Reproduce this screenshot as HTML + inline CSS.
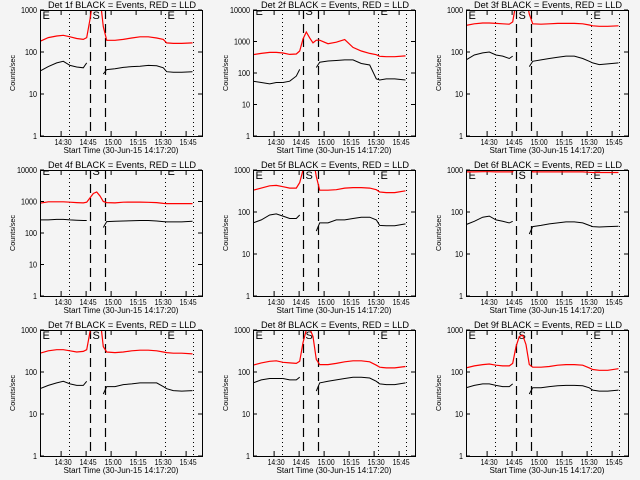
<!DOCTYPE html>
<html><head><meta charset="utf-8"><style>
html,body{margin:0;padding:0;background:#f4f4f4;}
svg{display:block;font-family:"Liberation Sans",sans-serif;}
</style></head><body>
<svg id="chart" width="640" height="480" viewBox="0 0 640 480" xmlns="http://www.w3.org/2000/svg">
<rect x="0" y="0" width="640" height="480" fill="#f4f4f4"/>
</svg>
<script>
// minutes after 14:17:20
const blackTimes = [0,5,10,14,18,22,26,28, 38,40,45,50,55,60,65,70,74,76,80,85,91.5];
const redTimes = [0,5,10,14,18,22,26,28,30,32,34,36,38,40,45,50,55,60,65,70,74,76,80,85,91.5];
const gapAfterIndex = 7;
const detNames = ["1f","2f","3f","4f","5f","6f","7f","8f","9f"];
const decades = [3,4,3,4,3,3,3,3,3];
const black1 = [35,45,55,60,48,44,42,55, 30,38,40,43,45,46,48,47,42,34,33,33,34];
const red1 = [180,220,240,250,230,210,200,220,600,2000,2000,2000,400,190,190,200,215,230,230,215,200,165,160,160,165];
const black2 = [55,50,45,50,50,55,80,130, 150,220,240,250,260,260,200,180,65,60,65,65,60];
const red2 = [380,420,450,450,430,390,400,500,1200,2000,1300,900,1100,1100,850,950,1150,650,500,420,380,340,330,330,350];
const black3 = [65,85,95,100,85,80,70,80, 45,60,65,70,75,80,80,70,60,55,50,52,55];
const red3 = [430,470,490,490,480,470,460,520,1500,2000,2000,2000,800,470,460,470,480,480,480,470,440,420,410,410,420];
const black4 = [260,260,270,270,260,255,250,250, 150,230,235,240,245,250,250,240,230,225,225,225,235];
const red4 = [880,980,980,980,950,920,900,950,1300,1800,2000,1500,1000,920,900,950,960,960,940,920,870,860,860,860,860];
const black5 = [55,65,85,90,80,70,70,85, 35,55,55,65,65,70,75,75,65,48,47,47,52];
const red5 = [330,370,420,430,400,370,370,500,1000,2000,2000,2000,700,330,330,340,370,380,380,370,340,300,290,290,320];
const black6 = [50,60,75,80,65,60,55,60, 30,45,48,52,55,58,58,55,48,45,44,45,46];
const red6 = [900,900,910,910,900,900,900,900,2000,2000,2000,2000,2000,900,900,900,900,900,900,900,880,870,870,870,870];
const black7 = [40,48,55,60,52,48,48,60, 30,45,45,50,52,55,55,55,45,40,36,35,36];
const red7 = [280,320,340,340,320,300,310,340,900,2000,2000,2000,400,300,290,300,320,330,330,320,300,290,280,280,270];
const black8 = [55,65,70,70,70,65,65,75, 35,55,60,65,70,75,75,72,60,52,50,50,55];
const red8 = [145,165,180,185,170,165,160,180,500,1000,1100,700,200,150,150,160,175,185,185,175,145,130,125,125,135];
const black9 = [42,48,52,52,48,45,45,52, 30,42,42,45,47,48,48,47,42,37,35,35,37];
const red9 = [125,140,150,155,145,140,140,160,400,700,750,450,150,130,130,135,145,150,150,145,125,115,110,110,120];
const blackSeries = [black1,black2,black3,black4,black5,black6,black7,black8,black9];
const redSeries = [red1,red2,red3,red4,red5,red6,red7,red8,red9];
const xTickLabels = ["14:30","14:45","15:00","15:15","15:30","15:45"];
const xTickTimes = [12.667,27.667,42.667,57.667,72.667,87.667];
const dottedTimes = [17.4,74.7,91.8];
const dashedTimes = [29.7,38.7];
const markerTimes = [1.5,31.5,76.5];
const markerLetters = ["E","S","E"];
const T_END = 97.2;

const NS = "http://www.w3.org/2000/svg";
const svg = document.getElementById('chart');
function mk(tag, attrs, parent){
  const e = document.createElementNS(NS, tag);
  for (const k in attrs) e.setAttribute(k, attrs[k]);
  (parent||svg).appendChild(e);
  return e;
}

for (let p = 0; p < 9; p++){
  const col = p % 3, row = Math.floor(p/3);
  const ox = [0,213,426][col], oy = row*160;
  const L = ox+40, R = ox+202, T = oy+10, B = oy+136;
  const dec = decades[p];
  const xs = t => L + (t/T_END)*(R-L);
  const ys = v => B - (Math.log10(v)/dec)*(B-T);

  const g = mk('g', {});
  
  

  const clipId = 'clip'+p;
  const cp = mk('clipPath', {id: clipId}, g);
  mk('rect', {x:L, y:T, width:R-L, height:B-T}, cp);

  const title = mk('text', {x:(L+R)/2+1, y:oy+8, 'text-anchor':'middle', 'font-size':'9', textLength:148, lengthAdjust:'spacingAndGlyphs'}, g);
  title.textContent = 'Det ' + detNames[p] + ' BLACK = Events, RED = LLD';
  
  

  for (let d = 0; d <= dec; d++){
    const y = ys(Math.pow(10,d));
    mk('line', {x1:L, x2:L+4, y1:y, y2:y, stroke:'#000'}, g);
    mk('line', {x1:R-4, x2:R, y1:y, y2:y, stroke:'#000'}, g);
    const s = String(Math.pow(10,d));
    const lab = mk('text', {x:L-3, y:y+3, 'text-anchor':'end', 'font-size':'8', textLength:s.length*4, lengthAdjust:'spacingAndGlyphs'}, g);
    lab.textContent = s;
    
    
  }
  const yt = mk('text', {x:0, y:0, 'text-anchor':'middle', 'font-size':'7', textLength:36, lengthAdjust:'spacingAndGlyphs', transform:`translate(${ox+15},${(T+B)/2}) rotate(-90)`}, g);
  yt.textContent = 'Counts/sec';
  
  

  for (let k = 0; k < xTickTimes.length; k++){
    const x = xs(xTickTimes[k]);
    mk('line', {x1:x, x2:x, y1:B, y2:B-5, stroke:'#000'}, g);
    mk('line', {x1:x, x2:x, y1:T, y2:T+5, stroke:'#000'}, g);
    const lab = mk('text', {x:x+2, y:B+9, 'text-anchor':'middle', 'font-size':'8', textLength:17, lengthAdjust:'spacingAndGlyphs'}, g);
    lab.textContent = xTickLabels[k];
    
    
  }
  const xt = mk('text', {x:ox+121, y:B+17, 'text-anchor':'middle', 'font-size':'8', textLength:115, lengthAdjust:'spacingAndGlyphs'}, g);
  xt.textContent = 'Start Time (30-Jun-15 14:17:20)';
  
  

  const inner = mk('g', {'clip-path':`url(#${clipId})`}, g);
  dottedTimes.forEach(t => { const x = Math.round(xs(t))+0.5;
    mk('line', {x1:x, x2:x, y1:T, y2:B, stroke:'#000', 'stroke-dasharray':'1,3'}, inner); });
  dashedTimes.forEach(t => { const x = Math.round(xs(t))+0.5;
    mk('line', {x1:x, x2:x, y1:T, y2:B, stroke:'#000', 'stroke-width':1.2, 'stroke-dasharray':'9,5'}, inner); });
  markerTimes.forEach((t,i) => {
    const m = mk('text', {x:xs(t), y:(dec===4? T+5 : T+9), 'font-size':'11'}, inner);
    m.textContent = markerLetters[i];
    
    
  });

  const bv = blackSeries[p];
  let d1 = '', d2 = '';
  blackTimes.forEach((t,i) => {
    const pt = xs(t).toFixed(1)+','+ys(bv[i]).toFixed(1);
    if (i <= gapAfterIndex) d1 += (i===0?'M':'L')+pt;
    else d2 += (i===gapAfterIndex+1?'M':'L')+pt;
  });
  const bl = mk('path', {d:d1+d2, fill:'none', stroke:'#000', 'stroke-width':1}, inner);
  
  

  const rv = redSeries[p];
  let dr = '';
  redTimes.forEach((t,i) => { dr += (i===0?'M':'L')+xs(t).toFixed(1)+','+ys(rv[i]).toFixed(1); });
  const rl = mk('path', {d:dr, fill:'none', stroke:'#ff0000', 'stroke-width':1.2}, inner);
  
  

  mk('rect', {x:L+0.5, y:T+0.5, width:R-L, height:B-T, fill:'none', stroke:'#000'}, g);
}
</script>
</body></html>
